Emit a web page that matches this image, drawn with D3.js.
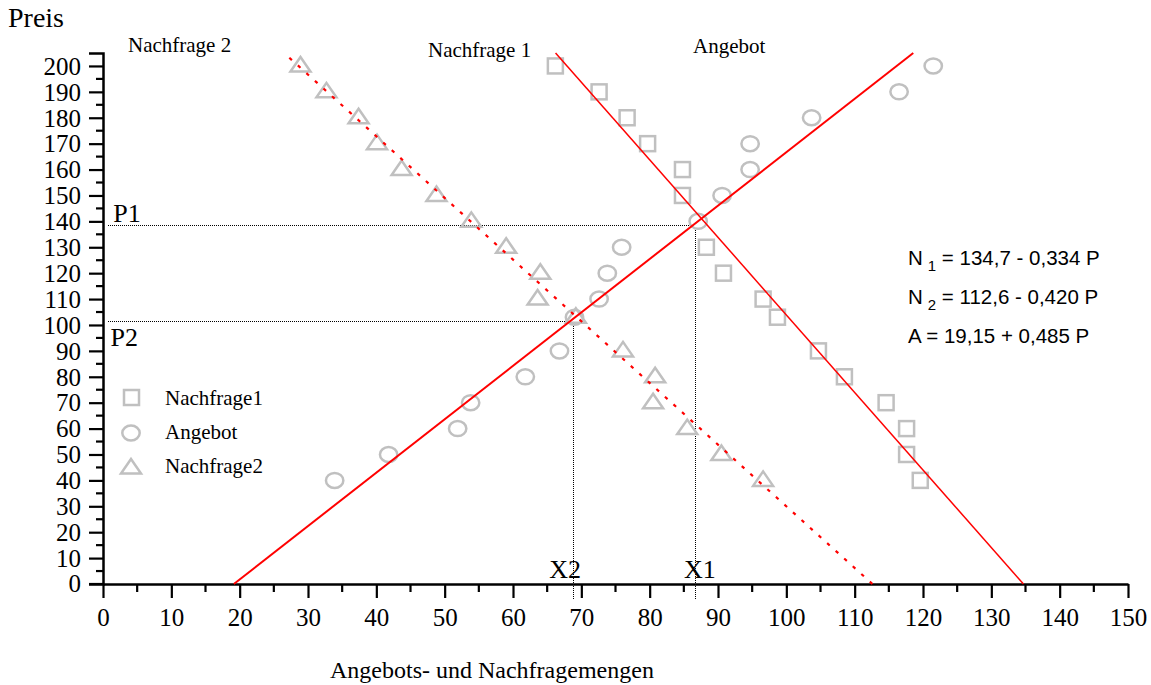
<!DOCTYPE html>
<html>
<head>
<meta charset="utf-8">
<script src="https://cdn.jsdelivr.net/npm/d3@7"></script>
<style>
  body { margin: 0; background: #fff; }
  svg { display: block; }
  .serif { font-family: "Liberation Serif", "Times New Roman", serif; fill: #000; }
  .sans { font-family: "Liberation Sans", Arial, sans-serif; fill: #000; }
</style>
</head>
<body>
<div id="chart"></div>
<script>
// observed points: [menge, preis]
const nachfrage1 = [
  [66.2, 200], [72.6, 190], [76.7, 180], [79.7, 170], [84.8, 160], [84.8, 150],
  [88.3, 130], [90.8, 120], [96.6, 110], [98.7, 103], [104.7, 90], [108.5, 80],
  [114.6, 70], [117.6, 60], [117.6, 50], [119.6, 40]
];
const angebot = [
  [33.9, 40], [41.8, 50], [51.9, 60], [53.8, 70], [61.8, 80], [66.8, 90],
  [69.0, 103], [72.6, 110], [73.8, 120], [75.9, 130], [87.1, 140], [90.6, 150],
  [94.7, 160], [94.7, 170], [103.7, 180], [116.5, 190], [121.5, 200]
];
const nachfrage2 = [
  [28.9, 200], [32.7, 190], [37.4, 180], [40.1, 170], [43.7, 160], [48.8, 150],
  [53.9, 140], [59.0, 130], [64.0, 120], [63.6, 110], [69.2, 103], [76.1, 90],
  [80.8, 80], [80.5, 70], [85.5, 60], [90.5, 50], [96.6, 40]
];

// fitted lines: menge = a + b * preis, drawn for preis from 0 to pMax
const fitN1 = { a: 134.7, b: -0.334, pMax: 205 };
const fitN2 = { a: 112.6, b: -0.420, pMax: 204 };
const fitA  = { a: 19.15, b: 0.485, pMax: 205 };

// equilibrium marks
const gleich = [
  { p: 138.7, x: 86.6, pLab: "P1", xLab: "X1" },
  { p: 101.5, x: 68.8, pLab: "P2", xLab: "X2" }
];

const xTicks = d3.range(0, 151, 10);
const yTicks = d3.range(0, 201, 10);

const width = 1151, height = 685;
const margin = { left: 103, right: 23, top: 53, bottom: 101 };

const svg = d3.select("#chart").append("svg")
  .attr("width", width).attr("height", height);

const x = d3.scaleLinear().domain([0, 150]).range([margin.left, width - margin.right]);
const y = d3.scaleLinear().domain([0, 205]).range([height - margin.bottom, margin.top]);

// axes
const yAxis = d3.axisLeft(y).tickValues(yTicks).tickSize(14).tickSizeOuter(14).tickPadding(8);
const gy = svg.append("g").attr("transform", `translate(${margin.left},0)`).call(yAxis);
gy.selectAll(".tick").filter(d => d === 0).remove();
gy.selectAll("text").attr("class", "serif").attr("font-size", 25).attr("dy", "0.33em");
gy.selectAll("line").attr("stroke-width", 2.2);
gy.select(".domain").attr("stroke-width", 2.5);
gy.append("g").selectAll("line").data(d3.range(5, 205, 10)).join("line")
  .attr("x1", -7).attr("x2", 0).attr("y1", d => y(d)).attr("y2", d => y(d))
  .attr("stroke", "#000").attr("stroke-width", 2.2);
// tick and label for 0 (kept apart so they sit on the x axis)
gy.append("line").attr("x1", -14).attr("x2", 0).attr("y1", y(0)).attr("y2", y(0))
  .attr("stroke", "#000").attr("stroke-width", 2.2);
gy.append("text").attr("class", "serif").attr("font-size", 25)
  .attr("x", -22).attr("y", y(0)).attr("dy", "0.33em").attr("text-anchor", "end").text("0");

const xAxis = d3.axisBottom(x).tickValues(xTicks).tickSize(14).tickSizeOuter(0).tickPadding(10);
const gx = svg.append("g").attr("transform", `translate(0,${y(0)})`).call(xAxis);
gx.selectAll("text").attr("class", "serif").attr("font-size", 25);
gx.selectAll("line").attr("stroke-width", 2.2);
gx.select(".domain").attr("stroke-width", 2.5);
gx.append("g").selectAll("line").data(d3.range(5, 150, 10)).join("line")
  .attr("x1", d => x(d)).attr("x2", d => x(d)).attr("y1", 0).attr("y2", 8)
  .attr("stroke", "#000").attr("stroke-width", 2.2);

// axis titles
svg.append("text").attr("class", "serif").attr("font-size", 28)
  .attr("x", 8).attr("y", 27).text("Preis");
svg.append("text").attr("class", "serif").attr("font-size", 24)
  .attr("x", 330).attr("y", 678).text("Angebots- und Nachfragemengen");

// equilibrium guide lines (crisp 1px dots)
const px = v => Math.round(v) + 0.5;
gleich.forEach(g => {
  svg.append("line")
    .attr("x1", x(0.8)).attr("x2", x(g.x - 0.4))
    .attr("y1", px(y(g.p))).attr("y2", px(y(g.p)))
    .attr("stroke", "#000").attr("stroke-width", 1).attr("stroke-dasharray", "1,1")
    .attr("shape-rendering", "crispEdges");
  svg.append("line")
    .attr("x1", px(x(g.x))).attr("x2", px(x(g.x)))
    .attr("y1", y(g.p - 1.3)).attr("y2", y(-6))
    .attr("stroke", "#000").attr("stroke-width", 1).attr("stroke-dasharray", "1,1")
    .attr("shape-rendering", "crispEdges");
});
svg.append("text").attr("class", "serif").attr("font-size", 26)
  .attr("x", x(1.5)).attr("y", y(gleich[0].p) - 3).text(gleich[0].pLab);
svg.append("text").attr("class", "serif").attr("font-size", 26)
  .attr("x", x(1.1)).attr("y", y(gleich[1].p) + 25).text(gleich[1].pLab);
svg.append("text").attr("class", "serif").attr("font-size", 26).attr("text-anchor", "middle")
  .attr("x", x(gleich[0].x) + 5).attr("y", y(0) - 6).text(gleich[0].xLab);
svg.append("text").attr("class", "serif").attr("font-size", 26).attr("text-anchor", "middle")
  .attr("x", x(gleich[1].x) - 8).attr("y", y(0) - 6).text(gleich[1].xLab);

// markers
const grey = "#c0c0c0";
const tri = d3.symbol().type({
  draw(ctx) { ctx.moveTo(0, -8); ctx.lineTo(10, 6.5); ctx.lineTo(-10, 6.5); ctx.closePath(); }
});

svg.append("g").selectAll("rect").data(nachfrage1).join("rect")
  .attr("x", d => x(d[0]) - 7.5).attr("y", d => y(d[1]) - 7.5)
  .attr("width", 15).attr("height", 15)
  .attr("fill", "none").attr("stroke", grey).attr("stroke-width", 2.5);

svg.append("g").selectAll("ellipse").data(angebot).join("ellipse")
  .attr("cx", d => x(d[0])).attr("cy", d => y(d[1]))
  .attr("rx", 8.7).attr("ry", 7.5)
  .attr("fill", "none").attr("stroke", grey).attr("stroke-width", 2.5);

svg.append("g").selectAll("path").data(nachfrage2).join("path")
  .attr("transform", d => `translate(${x(d[0])},${y(d[1]) - 1})`)
  .attr("d", tri())
  .attr("fill", "none").attr("stroke", grey).attr("stroke-width", 2.5);

// fitted lines
const line = d3.line().x(d => x(d[0])).y(d => y(d[1]));
function fitPts(f) { return [[f.a, 0], [f.a + f.b * f.pMax, f.pMax]]; }

svg.append("path").attr("d", line(fitPts(fitA)))
  .attr("stroke", "#ff0000").attr("stroke-width", 2).attr("fill", "none");
svg.append("path").attr("d", line(fitPts(fitN1)))
  .attr("stroke", "#ff0000").attr("stroke-width", 1.5).attr("fill", "none");
svg.append("path").attr("d", line(fitPts(fitN2)))
  .attr("stroke", "#ff0000").attr("stroke-width", 2.2).attr("fill", "none")
  .attr("stroke-dasharray", "3.5,8");

// curve names
svg.append("text").attr("class", "serif").attr("font-size", 21).attr("x", 128).attr("y", 52).text("Nachfrage 2");
svg.append("text").attr("class", "serif").attr("font-size", 21).attr("x", 428).attr("y", 57).text("Nachfrage 1");
svg.append("text").attr("class", "serif").attr("font-size", 21).attr("x", 693).attr("y", 53).text("Angebot");

// equations
const eq = [
  { base: "N", sub: "1", rest: " = 134,7 - 0,334 P" },
  { base: "N", sub: "2", rest: " = 112,6 - 0,420 P" },
  { base: "A", sub: "", rest: " = 19,15 + 0,485 P" }
];
eq.forEach((e, i) => {
  const t = svg.append("text").attr("class", "sans").attr("font-size", 20.5)
    .attr("x", 908).attr("y", 265 + i * 39);
  t.append("tspan").text(e.base);
  if (e.sub) {
    t.append("tspan").attr("dx", 5).attr("dy", 6).attr("font-size", 15).text(e.sub);
    t.append("tspan").attr("dy", -6).text(e.rest);
  } else {
    t.append("tspan").text(e.rest);
  }
});

// legend
const leg = svg.append("g");
const legItems = ["Nachfrage1", "Angebot", "Nachfrage2"];
leg.append("rect").attr("x", 124).attr("y", 390).attr("width", 15).attr("height", 15)
  .attr("fill", "none").attr("stroke", grey).attr("stroke-width", 2.5);
leg.append("ellipse").attr("cx", 131).attr("cy", 433).attr("rx", 8.7).attr("ry", 7.5)
  .attr("fill", "none").attr("stroke", grey).attr("stroke-width", 2.5);
leg.append("path").attr("transform", "translate(131,467)").attr("d", tri())
  .attr("fill", "none").attr("stroke", grey).attr("stroke-width", 2.5);
leg.selectAll("text").data(legItems).join("text").attr("class", "serif").attr("font-size", 21)
  .attr("x", 165).attr("y", (d, i) => 405 + i * 34).text(d => d);
</script>
</body>
</html>
